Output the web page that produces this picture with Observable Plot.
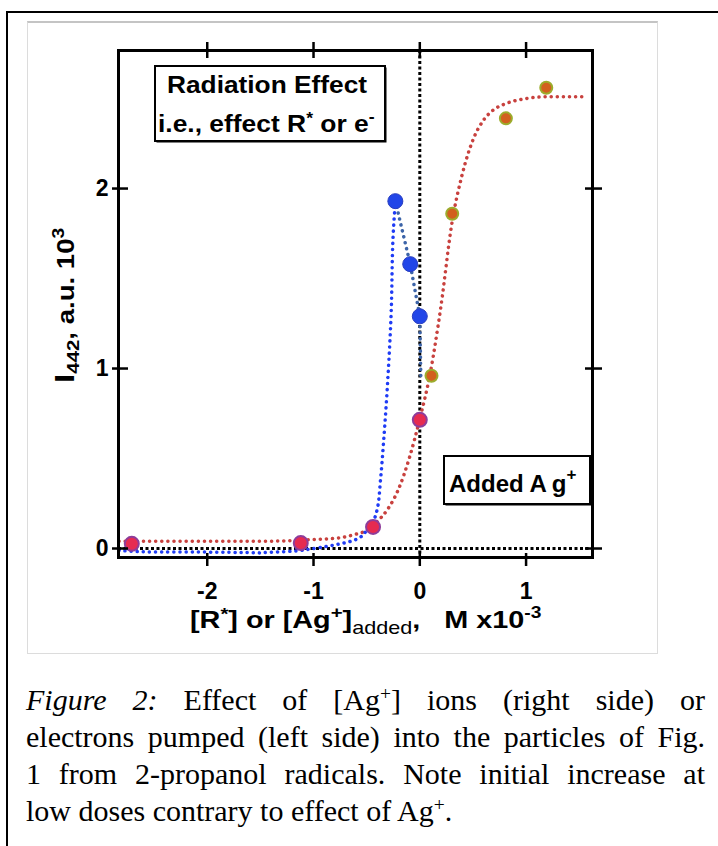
<!DOCTYPE html>
<html><head><meta charset="utf-8">
<script src="https://cdn.jsdelivr.net/npm/d3@7"></script>
<script src="https://cdn.jsdelivr.net/npm/@observablehq/plot@0.6"></script>
<style>
html,body{margin:0;padding:0;background:#fff;}
body{width:718px;height:846px;position:relative;overflow:hidden;}
#border{position:absolute;left:6px;top:11px;width:730px;height:860px;border-left:2px solid #000;border-top:2px solid #000;}
#panel{position:absolute;left:27px;top:21px;width:629px;height:630px;border:1px solid #dcdcdc;border-top:2px solid #c4c4c4;}
#chart{position:absolute;left:28px;top:23px;}
#caption{position:absolute;left:26px;top:681px;width:679px;font-family:"Liberation Serif",serif;font-size:30px;line-height:37px;color:#000;}
#caption div{white-space:nowrap;}
#caption .j{text-align:justify;text-align-last:justify;white-space:normal;}
.sup{position:relative;top:-0.5em;font-size:0.65em;line-height:0;}
</style>
</head><body>
<div id="border"></div>
<div id="panel"></div>
<div id="chart"></div>
<div id="caption">
  <div class="j"><i>Figure 2:</i> Effect of [Ag<span class="sup">+</span>] ions (right side) or</div>
  <div class="j">electrons pumped (left side) into the particles of Fig.</div>
  <div class="j">1 from 2-propanol radicals. Note initial increase at</div>
  <div>low doses contrary to effect of Ag<span class="sup">+</span>.</div>
</div>
<script>
// ---- data ----
const xTicks = [-2, -1, 0, 1];
const yTicks = [0, 1, 2];

// radiation (blue) measured points
const bluePtX = [-0.23, -0.09, 0.0];
const bluePtY = [1.93, 1.58, 1.29];
// dotted blue fit (left curve)
const blueCurveX = [-2.83, -2.5, -2.0, -1.5, -1.2, -1.0, -0.8, -0.6, -0.5, -0.44, -0.4, -0.37, -0.34, -0.3, -0.27, -0.25, -0.23];
const blueCurveY = [-0.01, -0.02, -0.02, -0.025, -0.015, 0.0, 0.02, 0.05, 0.1, 0.15, 0.22, 0.38, 0.6, 0.95, 1.3, 1.75, 1.93];
// steel-blue connector through blue points
const blueLinkX = [-0.23, -0.09, 0.0, 0.01];
const blueLinkY = [1.93, 1.58, 1.29, 0.95];

// shared (red) points
const redPtX = [-2.71, -1.12, -0.44, 0.0];
const redPtY = [0.026, 0.03, 0.12, 0.715];
// added Ag+ (orange) points
const orPtX = [0.11, 0.305, 0.81, 1.19];
const orPtY = [0.96, 1.86, 2.39, 2.56];
// dotted red sigmoid
const redCurveX = [-2.83, -2.0, -1.5, -1.0, -0.75, -0.6, -0.5, -0.4, -0.3, -0.2, -0.1, 0.0, 0.1, 0.2, 0.3, 0.4, 0.5, 0.6, 0.7, 0.8, 1.0, 1.2, 1.4, 1.55];
const redCurveY = [0.04, 0.04, 0.04, 0.05, 0.06, 0.08, 0.10, 0.15, 0.22, 0.33, 0.5, 0.72, 0.98, 1.35, 1.8, 2.08, 2.27, 2.38, 2.44, 2.47, 2.5, 2.51, 2.51, 2.51];

const zip = (xs, ys) => xs.map((x, i) => ({x, y: ys[i]}));
const bluePts = zip(bluePtX, bluePtY);
const blueCurve = zip(blueCurveX, blueCurveY);
const blueLink = zip(blueLinkX, blueLinkY);
const redPts = zip(redPtX, redPtY);
const orPts = zip(orPtX, orPtY);
const redCurve = zip(redCurveX, redCurveY);

const dotted = {stroke: "#000", strokeWidth: 3, strokeDasharray: "3,2.5"};
const tickStyle = {stroke: "#000", strokeWidth: 2.5, label: null};
const fmt = d => String(d);

const svg = Plot.plot({
  width: 629, height: 629,
  marginLeft: 90, marginRight: 65, marginTop: 27, marginBottom: 95,
  x: {domain: [-2.835, 1.625]},
  y: {domain: [-0.05, 2.767]},
  style: {fontFamily: "Liberation Sans, Arial, sans-serif", fontSize: "23px", fontWeight: "bold", background: "transparent", color: "#000", overflow: "visible"},
  marks: [
    Plot.ruleY([0], dotted),
    Plot.ruleX([0], dotted),
    Plot.line(redCurve, {x: "x", y: "y", stroke: "#c8413e", strokeWidth: 3.5, strokeDasharray: "0.1,6", strokeLinecap: "round", curve: "monotone-x"}),
    Plot.line(blueCurve, {x: "x", y: "y", stroke: "#1f3cf5", strokeWidth: 3.5, strokeDasharray: "0.1,6", strokeLinecap: "round", curve: "monotone-y"}),
    Plot.line(blueLink, {x: "x", y: "y", stroke: "#3c64a8", strokeWidth: 3.5, strokeDasharray: "0.1,6", strokeLinecap: "round"}),
    Plot.dot(redPts, {x: "x", y: "y", r: 7, fill: "#e62b50", stroke: "#8e3c9a", strokeWidth: 2}),
    Plot.dot(bluePts, {x: "x", y: "y", r: 7.5, fill: "#2246e8", stroke: "#2a3fc0", strokeWidth: 1}),
    Plot.dot(orPts, {x: "x", y: "y", r: 6, fill: "#d2601e", stroke: "#9cac2c", strokeWidth: 2}),
    Plot.frame({stroke: "#000", strokeWidth: 3}),
    Plot.axisX(xTicks, {anchor: "bottom", tickSize: 13, dy: -4, tickPadding: 16, tickFormat: fmt, fontSize: 23, fontWeight: "bold", ...tickStyle}),
    Plot.axisX(xTicks, {anchor: "top", tickSize: 16, dy: 7, fill: "none", ...tickStyle}),
    Plot.axisY(yTicks, {anchor: "left", tickSize: 16, dx: 10, tickPadding: 4, tickFormat: fmt, fontSize: 23, fontWeight: "bold", ...tickStyle}),
    Plot.axisY(yTicks, {anchor: "right", tickSize: 17, dx: -8, fill: "none", ...tickStyle})
  ]
});
document.getElementById("chart").appendChild(svg);

const s = d3.select(svg);
const g = s.append("g").attr("text-anchor", "start").attr("fill", "#000");
// x axis title (horizontally stretched like the source figure)
const xt = g.append("text").attr("transform", "translate(162,605) scale(1.2,1)").attr("font-size", 24).attr("font-weight", "bold");
xt.append("tspan").text("[R");
xt.append("tspan").attr("dy", -8).attr("font-size", 17).text("*");
xt.append("tspan").attr("dy", 8).text("] or [Ag");
xt.append("tspan").attr("dy", -10).attr("font-size", 17).text("+");
xt.append("tspan").attr("dy", 10).text("]");
xt.append("tspan").attr("dy", 6).attr("font-size", 18).attr("font-weight", "normal").text("added");
xt.append("tspan").attr("dy", -6).text(",\u00a0\u00a0 M x10");
xt.append("tspan").attr("dy", -10).attr("font-size", 16).text("-3");

// y axis title
const yt = g.append("text").attr("transform", "translate(46,360) rotate(-90) scale(1.2,1)").attr("font-size", 23).attr("font-weight", "bold");
yt.append("tspan").attr("font-size", 28).text("I");
yt.append("tspan").attr("dy", 5).attr("font-size", 17).text("442");
yt.append("tspan").attr("dy", -5).text(", a.u. 10");
yt.append("tspan").attr("dy", -10).attr("font-size", 16).text("3");

// annotation boxes
function box(x, y, w, h) {
  g.append("rect").attr("x", x + 1.5).attr("y", y + 1.5).attr("width", w).attr("height", h).attr("fill", "#000");
  g.append("rect").attr("x", x).attr("y", y).attr("width", w).attr("height", h).attr("fill", "#fff").attr("stroke", "#000").attr("stroke-width", 2);
}
box(127, 43, 230, 75);
g.append("text").attr("x", 239).attr("y", 70).attr("text-anchor", "middle").attr("font-size", 24).attr("font-weight", "bold")
  .attr("textLength", 200).attr("lengthAdjust", "spacingAndGlyphs").text("Radiation Effect");
const l2 = g.append("text").attr("transform", "translate(130,109) scale(1.1,1)").attr("font-size", 24).attr("font-weight", "bold");
l2.append("tspan").text("i.e., effect R");
l2.append("tspan").attr("dy", -8).attr("font-size", 16).text("*");
l2.append("tspan").attr("dy", 8).text(" or e");
l2.append("tspan").attr("dy", -10).attr("font-size", 16).text("-");

box(416, 433, 146, 48);
const a = g.append("text").attr("x", 421).attr("y", 469).attr("font-size", 24).attr("font-weight", "bold");
a.append("tspan").text("Added A");
a.append("tspan").attr("dx", 5).text("g");
a.append("tspan").attr("dy", -12).attr("font-size", 17).text("+");
</script>
</body></html>
